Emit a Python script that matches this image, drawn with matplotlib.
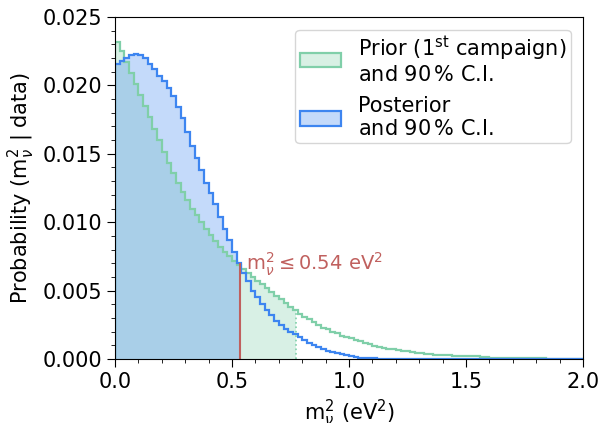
import numpy as np
import matplotlib
matplotlib.use("Agg")
import matplotlib.pyplot as plt
from matplotlib.patches import Rectangle, Patch

# histogram contents, bins of width 0.02 eV^2 from 0 to 2
bin_width = 0.02
prior = [0.0232, 0.0225, 0.0217, 0.0209, 0.0201, 0.0193, 0.0185, 0.0177,
         0.0168, 0.0160, 0.0151, 0.0143, 0.0136, 0.0129, 0.0122, 0.0116,
         0.0110, 0.0105, 0.0100, 0.0095, 0.0091, 0.0086, 0.0082, 0.0078,
         0.0075, 0.0072, 0.0069, 0.0066, 0.0063, 0.0060, 0.0057, 0.0055,
         0.0052, 0.0049, 0.0046, 0.0044, 0.0041, 0.0038, 0.0036, 0.0033,
         0.0031, 0.0029, 0.0027, 0.0025, 0.0023, 0.0022, 0.0020, 0.0019,
         0.0017, 0.0016, 0.0015, 0.0014, 0.0013, 0.0012, 0.0011, 0.00095,
         0.00088, 0.00082, 0.00076, 0.0007, 0.00065, 0.0006, 0.00055, 0.0005,
         0.00046, 0.00042, 0.00038, 0.00035, 0.00032, 0.0003, 0.00028, 0.00026,
         0.00025, 0.00023, 0.00022, 0.00022, 0.00021, 0.0002, 0.00018, 0.00015,
         0.0001, 0.0001, 0.0001, 0.0001, 0.0001, 0.0001, 0.0001, 0.0001,
         0.0001, 0.0001, 0.0001, 0.0001, 0.0, 0.0, 0.0, 0.0,
         0.0, 0.0, 0.0, 0.0]
posterior = [0.0216, 0.0218, 0.0220, 0.0222, 0.0223, 0.0222, 0.0220, 0.0216,
             0.0212, 0.0207, 0.0203, 0.0198, 0.0192, 0.0184, 0.0176, 0.0166,
             0.0156, 0.0147, 0.0138, 0.0129, 0.0121, 0.0113, 0.0104, 0.0095,
             0.0087, 0.0078, 0.0070, 0.0063, 0.0057, 0.0050, 0.0045, 0.0040,
             0.0036, 0.0032, 0.0028, 0.0025, 0.0022, 0.0020, 0.0018, 0.0016,
             0.0014, 0.0012, 0.0010, 0.0009, 0.0007, 0.0006, 0.0005, 0.00045,
             0.0004, 0.0003, 0.0002, 0.00015, 0.00005, 0.00005, 0.00005, 0.00005,
             0.00003, 0.0, 0.0, 0.0, 0.0, 0.0, 0.0, 0.0,
             0.0, 0.0, 0.0, 0.0, 0.0, 0.0, 0.0, 0.0,
             0.0, 0.0, 0.0, 0.0, 0.0, 0.0, 0.0, 0.0,
             0.0, 0.0, 0.0, 0.0, 0.0, 0.0, 0.0, 0.0,
             0.0, 0.0, 0.0, 0.0, 0.0, 0.0, 0.0, 0.0,
             0.0, 0.0, 0.0, 0.0]
ci_prior = 0.773
ci_post = 0.535

green = '#80cfa9'
blue = '#3d85f0'
red = '#c0605e'

edges = np.arange(len(prior) + 1) * bin_width

fig = plt.figure(figsize=(6, 4.23), dpi=100)
ax = fig.add_axes([0.1917, 0.1513, 0.78, 0.8085])

# shaded 90% C.I. regions
for vals, cut, col in [(prior, ci_prior, green), (posterior, ci_post, blue)]:
    art = ax.stairs(vals, edges, fill=True, color=col, alpha=0.3, lw=0)
    art.set_clip_path(Rectangle((0, 0), cut, 1, transform=ax.transData))

ax.stairs(prior, edges, color=green, lw=1.6)
ax.stairs(posterior, edges, color=blue, lw=1.6)

# limit lines
ax.vlines(ci_post, 0, posterior[int(ci_post / bin_width)], color=red, lw=1.5)
ax.vlines(ci_prior, 0, prior[int(ci_prior / bin_width)], color=green,
          lw=1.2, linestyles=':')

ax.text(0.56, 0.0065, r'$\mathrm{m}_\nu^2 \leq 0.54\ \mathrm{eV}^2$',
        color=red, fontsize=14, va='baseline')

ax.set_xlim(0, 2)
ax.set_ylim(0, 0.025)
ax.set_xticks([0, 0.5, 1.0, 1.5, 2.0])
ax.set_xticks(np.arange(0, 2.01, 0.1), minor=True)
ax.set_yticks([0, 0.005, 0.01, 0.015, 0.02, 0.025])
ax.set_yticks(np.arange(0, 0.0251, 0.001), minor=True)
ax.yaxis.set_major_formatter(matplotlib.ticker.FormatStrFormatter('%.3f'))
ax.tick_params(which='major', length=6, labelsize=15)
ax.tick_params(which='minor', length=3)

ax.set_xlabel(r'$\mathrm{m}_\nu^2$ (eV$^2$)', fontsize=15)
ax.set_ylabel(r'Probability ($\mathrm{m}_\nu^2$ | data)', fontsize=15)

handles = [Patch(facecolor=(0.5, 0.81, 0.66, 0.3), edgecolor=green, lw=1.6),
           Patch(facecolor=(0.24, 0.52, 0.94, 0.3), edgecolor=blue, lw=1.6)]
leg = ax.legend(handles,
                ['Prior (1$^{\\mathrm{st}}$ campaign)\nand 90$\\,$% C.I.',
                 'Posterior\nand 90$\\,$% C.I.'],
                loc='upper right', fontsize=15, frameon=True,
                labelspacing=0.55, handletextpad=0.8, borderpad=0.2,
                borderaxespad=0.6)
for t in leg.get_texts():
    t.set_linespacing(1.15)

fig.savefig('out.png', dpi=100)
